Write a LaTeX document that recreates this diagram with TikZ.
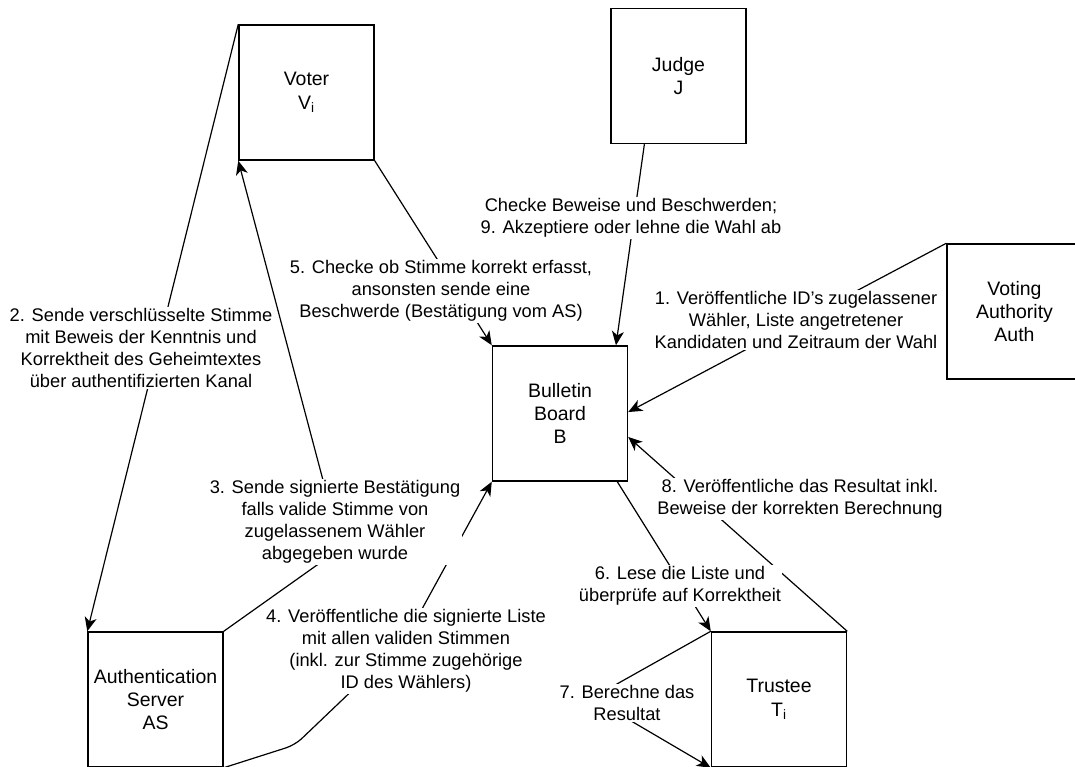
\documentclass[tikz,border=0pt]{standalone}
\usepackage{fontspec}
\setmainfont{Liberation Sans}
\usetikzlibrary{arrows.meta,calc}
\begin{document}
\begin{tikzpicture}[x=0.75pt,y=-0.75pt,
  box/.style={draw, line width=1.1pt, minimum width=101.25pt, minimum height=101.25pt, inner sep=0pt, align=center, font=\fontsize{14.6}{17.5}\selectfont},
  lbl/.style={fill=white, inner sep=1pt, align=center, font=\fontsize{13.7}{16.5}\selectfont},
  conn/.style={line width=0.9pt},
  arr/.style={conn, -{Stealth[length=10.5pt,width=9pt,inset=3pt]}}]
\useasboundingbox (0,0) rectangle (1075,767);
\clip (0,0) rectangle (1075,767);
% boxes
\node[box] (V) at (306.5,92.5) {Voter\\V\textsubscript{i}};
\node[box] (J) at (678.5,76) {Judge\\J};
\node[box] (VA) at (1014.5,311.5) {Voting\\Authority\\Auth};
\node[box] (BB) at (560,413.5) {Bulletin\\Board\\B};
\node[box] (AS) at (155.5,699.5) {Authentication\\Server\\AS};
\node[box] (T) at (779,699.5) {Trustee\\T\textsubscript{i}};
% waypoints
\coordinate (w3) at (341,548);
\coordinate (w4a) at (295,745);
\coordinate (w4b) at (405,640);
\coordinate (w7) at (592,698);
% connectors
\draw[arr] (VA.north west) -- ([yshift=1.1pt]BB.east);
\draw[arr] ($(J.south west)!0.25!(J.south east)$) -- ($(BB.north west)!0.91!(BB.north east)$);
\draw[arr] (V.south east) -- (BB.north west);
\draw[arr] (V.north west) -- (AS.north west);
\draw[arr] (AS.north east) -- (w3) -- (V.south west);
\draw[arr, rounded corners=7pt] (AS.south east) -- (w4a) -- (w4b) -- (BB.south west);
\draw[arr] ($(BB.south west)!0.92!(BB.south east)$) -- (T.north west);
\draw[arr] (T.north west) -- (w7) -- (T.south west);
\draw[arr] (T.north east) -- ([yshift=-17.6pt]BB.east);
% labels
\node[lbl] (l1) at (796,320) {1. Veröffentliche ID's zugelassener\\Wähler, Liste angetretener\\Kandidaten und Zeitraum der Wahl};
\node[lbl] (l9) at (631,218) {Checke Beweise und Beschwerden;\\9. Akzeptiere oder lehne die Wahl ab};
\node[lbl] (l5) at (441,291) {5. Checke ob Stimme korrekt erfasst,\\ansonsten sende eine\\Beschwerde (Bestätigung vom AS)};
\node[lbl] (l2) at (141,348) {2. Sende verschlüsselte Stimme\\mit Beweis der Kenntnis und\\Korrektheit des Geheimtextes\\über authentifizierten Kanal};
\node[lbl] (l3) at (335,522) {3. Sende signierte Bestätigung\\falls valide Stimme von\\zugelassenem Wähler\\abgegeben wurde};
\node[lbl] (l4) at (406,651) {4. Veröffentliche die signierte Liste\\mit allen validen Stimmen\\(inkl. zur Stimme zugehörige\\ID des Wählers)};
\node[lbl] (l6) at (680,586) {6. Lese die Liste und\\überprüfe auf Korrektheit};
\node[lbl] (l7) at (627,703) {7. Berechne das\\Resultat};
\node[lbl] (l8) at (800,499) {8. Veröffentliche das Resultat inkl.\\Beweise der korrekten Berechnung};
\end{tikzpicture}
\end{document}
